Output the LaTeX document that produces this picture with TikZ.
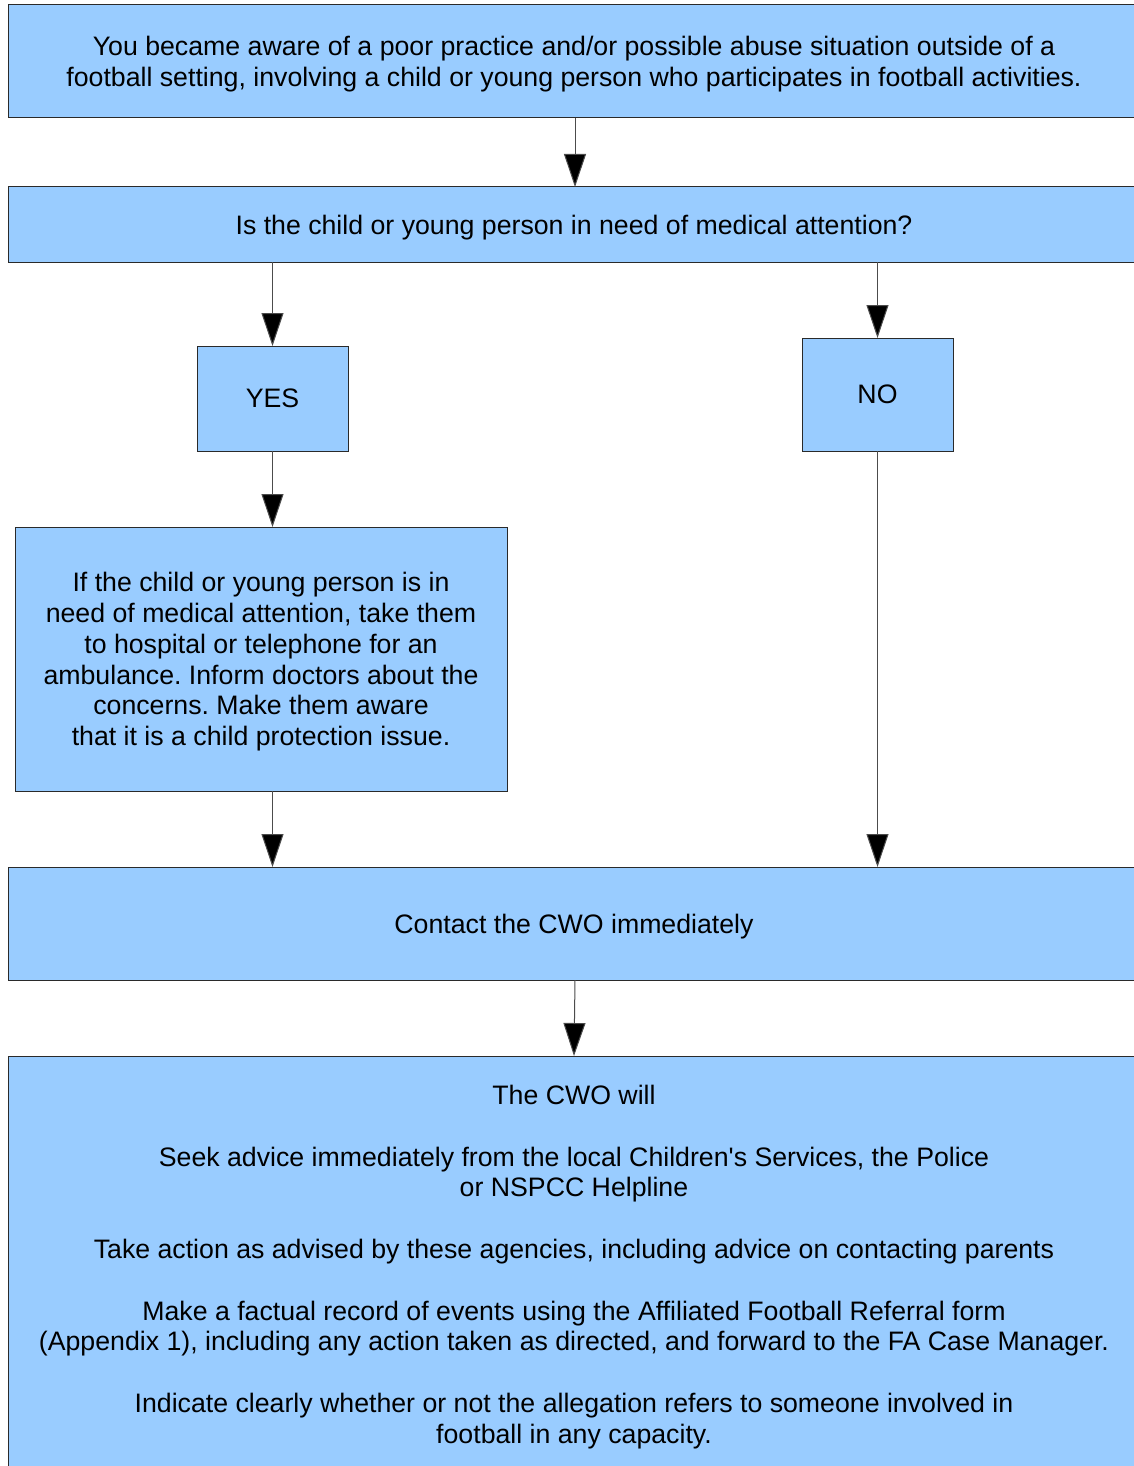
\documentclass[tikz,border=0pt]{standalone}
\usepackage{fontspec}
\setmainfont{Liberation Sans}
\usetikzlibrary{arrows.meta}
\definecolor{boxfill}{HTML}{99CCFF}
\definecolor{boxline}{HTML}{2A2A2A}
\frenchspacing
\begin{document}
\begin{tikzpicture}[x=1pt,y=-1pt,
  box/.style={draw=boxline,line width=1pt,fill=boxfill,inner sep=0pt,outer sep=0pt,
    align=center,font=\fontsize{26.7}{30.8}\selectfont,text=black,text depth=0pt},
  conn/.style={draw=black!70,line width=1pt,-{Triangle[length=33pt,width=22pt,fill=black]}}]
\useasboundingbox (0,0) rectangle (1134,1466);
\clip (0,0) rectangle (1134,1466);
\fill[white] (0,0) rectangle (1134,1466);
\node[box,minimum width=1132pt,minimum height=113pt] (top) at (574,61.5)
  {You became aware of a poor practice and/or possible abuse situation outside of a\\
   football setting, involving a child or young person who participates in football activities.};
\node[box,minimum width=1132pt,minimum height=75pt] (q) at (574,224.5)
  {Is the child or young person in need of medical attention?};
\node[box,minimum width=151pt,minimum height=105pt] (yes) at (272.5,398.5) {YES};
\node[box,minimum width=151pt,minimum height=113pt] (no) at (877.5,394.5) {NO};
\node[box,minimum width=492pt,minimum height=264pt] (med) at (261,659)
  {If the child or young person is in\\
   need of medical attention, take them\\
   to hospital or telephone for an\\
   ambulance. Inform doctors about the\\
   concerns. Make them aware\\
   that it is a child protection issue.};
\node[box,minimum width=1132pt,minimum height=113pt] (cwo) at (574,923.5)
  {Contact the CWO immediately};
\node[box,minimum width=1132pt,minimum height=440pt,anchor=north] (fin) at (574,1056) {};
\node[align=center,font=\fontsize{26.7}{30.8}\selectfont,anchor=north,inner sep=0pt] (fintext) at (574,1085)
  {The CWO will\\[30.8pt]
   Seek advice immediately from the local Children\textquotesingle s Services, the Police\\
   or NSPCC Helpline\\[30.8pt]
   Take action as advised by these agencies, including advice on contacting parents\\[30.8pt]
   Make a factual record of events using the Affiliated Football Referral form\\
   (Appendix 1), including any action taken as directed, and forward to the FA Case Manager.\\[30.8pt]
   Indicate clearly whether or not the allegation refers to someone involved in\\
   football in any capacity.};
\draw[conn] (top.south -| 575,0) -- (q.north -| 575,0);
\draw[conn] (q.south -| yes.north) -- (yes.north);
\draw[conn] (q.south -| no.north) -- (no.north);
\draw[conn] (yes.south) -- (yes.south |- med.north);
\draw[conn] (med.south -| yes.south) -- (yes.south |- cwo.north);
\draw[conn] (no.south) -- (no.south |- cwo.north);
\draw[conn] (cwo.south -| 575,0) -- (575,1056 -| fin.north);
\end{tikzpicture}
\end{document}
